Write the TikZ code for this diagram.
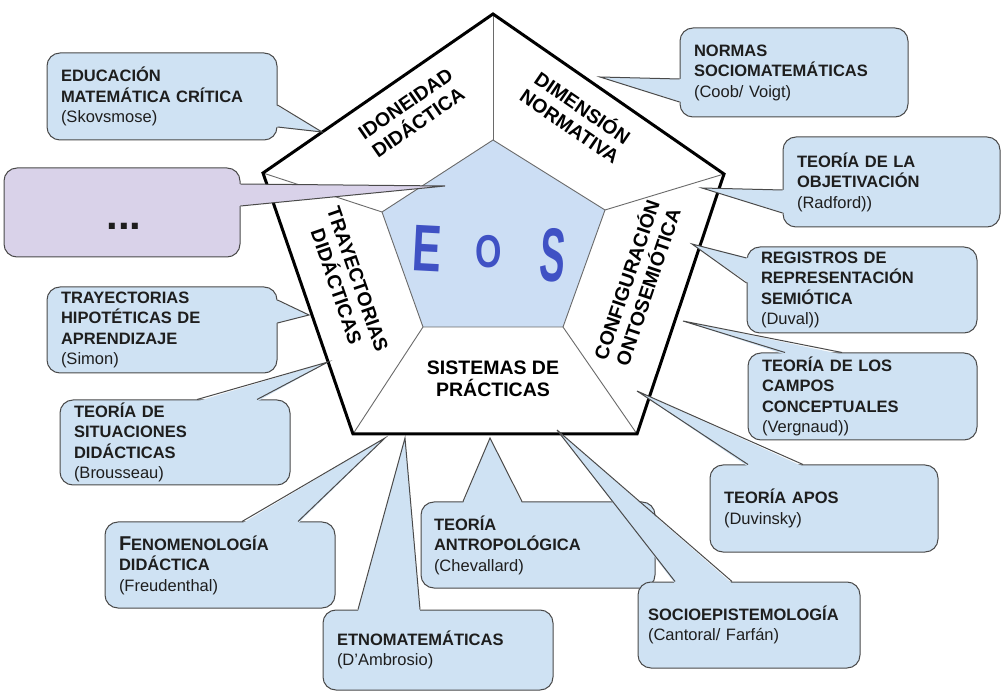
\documentclass[tikz,border=0pt]{standalone}
\usepackage{fontspec}
\setmainfont{Liberation Sans}
\usetikzlibrary{calc}
\definecolor{boxblue}{HTML}{CFE2F3}
\definecolor{innerblue}{HTML}{CCDEF4}
\definecolor{lav}{HTML}{D9D2E9}
\definecolor{bordergrey}{HTML}{4A4A4A}
\definecolor{spokegrey}{HTML}{6A6A6A}
\definecolor{eosblue}{HTML}{3F51C4}
\definecolor{txt}{HTML}{1E1E1E}
\tikzset{
  cbox/.style={draw=bordergrey, line width=1pt, fill=boxblue, rounded corners=13pt,
    inner xsep=14pt, inner ysep=0pt, align=left, text=txt,
    font=\fontsize{16.5}{20.5}\selectfont},
  wline/.style={draw=bordergrey, line width=1pt, line join=miter},
  spoke/.style={draw=spokegrey, line width=0.9pt},
  plabel/.style={font=\bfseries\fontsize{19.5}{22.5}\selectfont, align=center, text=black, inner sep=0pt},
  eosletter/.style={text=eosblue, inner sep=0pt},
}
\newcommand\cwedge[5]{%
  \fill[#4] ([#5]#1) -- (#3) -- ([#5]#2) -- cycle;
  \draw[wline] (#1) -- (#3) -- (#2);
}
\begin{document}
\begin{tikzpicture}[x=1pt,y=-1pt]
\useasboundingbox (0,0) rectangle (1002,692);
\fill[white] (0,0) rectangle (1002,692);

% ---------------- pentagon ----------------
\coordinate (O1) at (493,14);
\coordinate (O2) at (724,174);
\coordinate (O3) at (637,434);
\coordinate (O4) at (353,434);
\coordinate (O5) at (263,173);
\coordinate (I1) at (493,140);
\coordinate (I2) at (605,210);
\coordinate (I3) at (563,327);
\coordinate (I4) at (423,327);
\coordinate (I5) at (382,212);
\fill[white] (O1) -- (O2) -- (O3) -- (O4) -- (O5) -- cycle;
\draw[spoke] (O1) -- (I1);
\draw[spoke] (O2) -- (I2);
\draw[spoke] (O3) -- (I3);
\draw[spoke] (O4) -- (I4);
\draw[spoke] (O5) -- (I5);
\filldraw[fill=innerblue, draw=spokegrey, line width=0.9pt] (I1) -- (I2) -- (I3) -- (I4) -- (I5) -- cycle;
\draw[line width=3pt, line join=miter] (O1) -- (O2) -- (O3) -- (O4) -- (O5) -- cycle;

\node[plabel, rotate=34.7] (idon) at (412,113) {IDONEIDAD\\DIDÁCTICA};
\node[plabel, rotate=-34.4] (dimn) at (577,116) {DIMENSIÓN\\NORMATIVA};
\node[plabel, rotate=71.3] (conf) at (636,283) {CONFIGURACIÓN\\ONTOSEMIÓTICA};
\node[plabel, rotate=-71] (tray) at (347,283) {TRAYECTORIAS\\DIDÁCTICAS};
\node[plabel] (sist) at (493,379) {SISTEMAS DE\\PRÁCTICAS};

\node[eosletter, font=\bfseries\fontsize{66}{66}\selectfont, rotate=-3] (eosE) at (427,249) {\scalebox{0.66}[1]{E}};
\node[eosletter, font=\bfseries\fontsize{50}{50}\selectfont] (eosO) at (489,251.5) {\scalebox{0.68}[0.92]{O}};
\node[eosletter, font=\bfseries\fontsize{76}{76}\selectfont, rotate=-4] (eosS) at (553,255) {\scalebox{0.5}[1]{S}};

% ---------------- callouts ----------------
% Educacion matematica critica
\node[cbox, minimum width=230pt, minimum height=87pt, text width=202pt] (edu) at (162,96.5)
  {\textbf{EDUCACIÓN}\\\textbf{MATEMÁTICA CRÍTICA}\\(Skovsmose)};
\coordinate (edu-b1) at (edu.east |- 0,105);
\coordinate (edu-b2) at (edu.east |- 0,127);
\coordinate (edu-tip) at (322,132);
\cwedge{edu-b1}{edu-b2}{edu-tip}{boxblue}{xshift=-2pt}

% dots
\node[cbox, fill=lav, minimum width=236pt, minimum height=89pt, text width=208pt] (dots) at (122,212.5) {};
\node[font=\bfseries\fontsize{42}{42}\selectfont, text=txt, inner sep=0pt] (dots-t) at (124,226) {...};
\coordinate (dots-b1) at (dots.east |- 0,184);
\coordinate (dots-b2) at (dots.east |- 0,206);
\coordinate (dots-tip) at (445,186);
\cwedge{dots-b1}{dots-b2}{dots-tip}{lav}{xshift=-2pt}

% Normas
\node[cbox, minimum width=228pt, minimum height=89pt, text width=200pt] (norm) at (794,72.5)
  {\textbf{NORMAS}\\\textbf{SOCIOMATEMÁTICAS}\\(Coob/ Voigt)};
\coordinate (norm-b1) at (norm.west |- 0,79);
\coordinate (norm-b2) at (norm.west |- 0,102);
\coordinate (norm-tip) at (600,77);
\cwedge{norm-b1}{norm-b2}{norm-tip}{boxblue}{xshift=2pt}

% Objetivacion
\node[cbox, minimum width=217pt, minimum height=90pt, text width=189pt] (obj) at (891.5,182)
  {\textbf{TEORÍA DE LA}\\\textbf{OBJETIVACIÓN}\\(Radford))};
\coordinate (obj-b1) at (obj.west |- 0,190);
\coordinate (obj-b2) at (obj.west |- 0,213);
\coordinate (obj-tip) at (702,188);
\cwedge{obj-b1}{obj-b2}{obj-tip}{boxblue}{xshift=2pt}

% Registros
\node[cbox, minimum width=230pt, minimum height=86pt, text width=202pt] (reg) at (862,290)
  {\textbf{REGISTROS DE}\\\textbf{REPRESENTACIÓN}\\\textbf{SEMIÓTICA}\\(Duval))};
\coordinate (reg-b1) at (reg.west |- 0,258);
\coordinate (reg-b2) at (reg.west |- 0,283);
\coordinate (reg-tip) at (692,244);
\cwedge{reg-b1}{reg-b2}{reg-tip}{boxblue}{xshift=2pt}

% Campos conceptuales
\node[cbox, minimum width=229pt, minimum height=87pt, text width=201pt] (camp) at (862.5,396.5)
  {\textbf{TEORÍA DE LOS}\\\textbf{CAMPOS}\\\textbf{CONCEPTUALES}\\(Vergnaud))};
\coordinate (camp-b1) at (785,0 |- camp.north);
\coordinate (camp-b2) at (842,0 |- camp.north);
\coordinate (camp-tip) at (683,321);
\cwedge{camp-b1}{camp-b2}{camp-tip}{boxblue}{yshift=-2pt}

% APOS
\node[cbox, minimum width=228pt, minimum height=87pt, text width=200pt] (apos) at (824,508.5)
  {\textbf{TEORÍA APOS}\\(Duvinsky)};
\coordinate (apos-b1) at (748,0 |- apos.north);
\coordinate (apos-b2) at (803,0 |- apos.north);
\coordinate (apos-tip) at (637,391);
\cwedge{apos-b1}{apos-b2}{apos-tip}{boxblue}{yshift=-2pt}

% Antropologica
\node[cbox, minimum width=234pt, minimum height=86pt, text width=208pt, inner xsep=13pt] (antr) at (538,545)
  {\textbf{TEORÍA}\\\textbf{ANTROPOLÓGICA}\\(Chevallard)};
\coordinate (antr-b1) at (463,0 |- antr.north);
\coordinate (antr-b2) at (522,0 |- antr.north);
\coordinate (antr-tip) at (490,438);
\cwedge{antr-b1}{antr-b2}{antr-tip}{boxblue}{yshift=-2pt}

% Socioepistemologia
\node[cbox, minimum width=222pt, minimum height=86pt, text width=202pt, inner xsep=10pt] (soci) at (749,625)
  {\textbf{SOCIOEPISTEMOLOGÍA}\\(Cantoral/ Farfán)};
\coordinate (soci-b1) at (675,0 |- soci.north);
\coordinate (soci-b2) at (732,0 |- soci.north);
\coordinate (soci-tip) at (557,430);
\cwedge{soci-b1}{soci-b2}{soci-tip}{boxblue}{yshift=-2pt}

% Etnomatematicas
\node[cbox, minimum width=230pt, minimum height=80pt, text width=202pt] (etno) at (438,650)
  {\textbf{ETNOMATEMÁTICAS}\\(D’Ambrosio)};
\coordinate (etno-b1) at (358,0 |- etno.north);
\coordinate (etno-b2) at (420,0 |- etno.north);
\coordinate (etno-tip) at (405,438);
\cwedge{etno-b1}{etno-b2}{etno-tip}{boxblue}{yshift=-2pt}

% Fenomenologia
\node[cbox, minimum width=230pt, minimum height=86pt, text width=202pt] (feno) at (220,565)
  {\textbf{{\fontsize{20}{20.5}\selectfont F}ENOMENOLOGÍA}\\\textbf{DIDÁCTICA}\\(Freudenthal)};
\coordinate (feno-b1) at (242,0 |- feno.north);
\coordinate (feno-b2) at (298,0 |- feno.north);
\coordinate (feno-tip) at (385,438);
\cwedge{feno-b1}{feno-b2}{feno-tip}{boxblue}{yshift=-2pt}

% Situaciones didacticas
\node[cbox, minimum width=230pt, minimum height=85pt, text width=202pt] (situ) at (175,442.5)
  {\textbf{TEORÍA DE}\\\textbf{SITUACIONES}\\\textbf{DIDÁCTICAS}\\(Brousseau)};
\coordinate (situ-b1) at (197,0 |- situ.north);
\coordinate (situ-b2) at (257,0 |- situ.north);
\coordinate (situ-tip) at (328,362);
\cwedge{situ-b1}{situ-b2}{situ-tip}{boxblue}{yshift=-2pt}

% Trayectorias hipoteticas
\node[cbox, minimum width=230pt, minimum height=86pt, text width=202pt] (thip) at (162,330)
  {\textbf{TRAYECTORIAS}\\\textbf{HIPOTÉTICAS DE}\\\textbf{APRENDIZAJE}\\(Simon)};
\coordinate (thip-b1) at (thip.east |- 0,300);
\coordinate (thip-b2) at (thip.east |- 0,323);
\coordinate (thip-tip) at (309,315);
\cwedge{thip-b1}{thip-b2}{thip-tip}{boxblue}{xshift=-2pt}
\end{tikzpicture}
\end{document}
